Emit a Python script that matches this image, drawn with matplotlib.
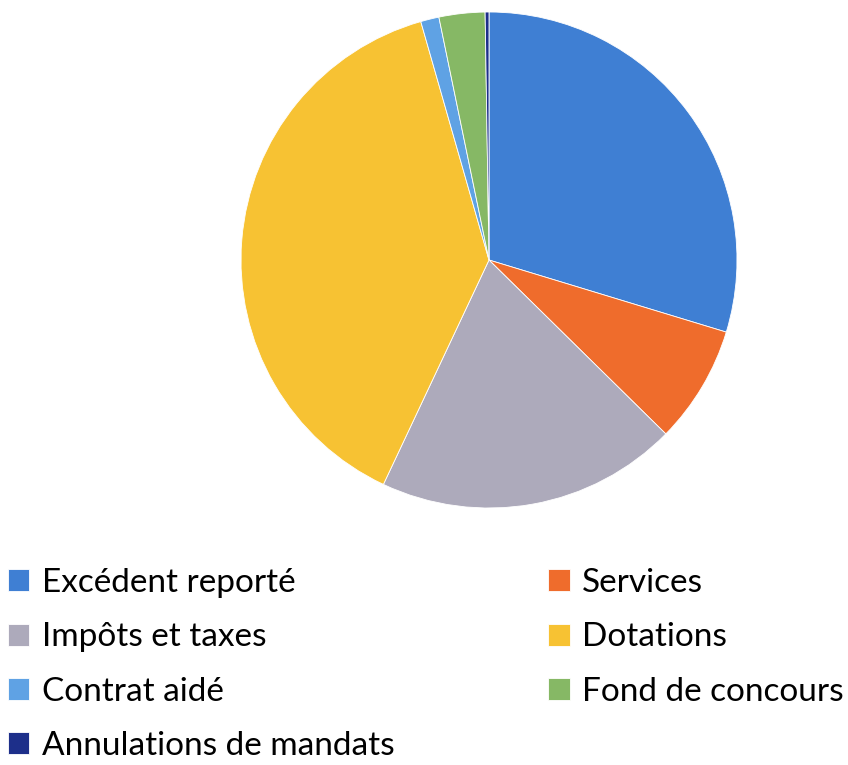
import matplotlib.pyplot as plt

categories = ["Excédent reporté", "Services", "Impôts et taxes", "Dotations",
              "Contrat aidé", "Fond de concours", "Annulations de mandats"]
values = [29.8, 7.7, 19.7, 38.7, 1.2, 3.0, 0.25]
colors = ["#3f7fd3", "#ef6c2c", "#adaabb", "#f7c233", "#5fa2e4", "#86b865", "#1d2f8a"]

plt.rcParams['font.family'] = ['Lato', 'DejaVu Sans']

fig = plt.figure(figsize=(8.48, 7.65), dpi=100)
W, H = 848, 765
cx, cy, r = 489, 260, 248
ax = fig.add_axes([(cx - r) / W, (H - cy - r) / H, 2 * r / W, 2 * r / H])

wedges, _ = ax.pie(values, colors=colors, startangle=90, counterclock=False,
                   radius=1, wedgeprops=dict(edgecolor="white", linewidth=0.6))
ax.set_xlim(-1, 1)
ax.set_ylim(-1, 1)
ax.set_aspect("equal")

# ordre des colonnes comme dans l'original (lecture par lignes)
order = [0, 2, 4, 6, 1, 3, 5]
fig.legend([wedges[i] for i in order], [categories[i] for i in order],
           loc="upper left", bbox_to_anchor=(0.003, 1 - 563 / H), ncol=2,
           frameon=False, fontsize=24, handlelength=0.65, handleheight=0.65,
           handletextpad=0.38, labelspacing=0.73, columnspacing=4.6,
           borderaxespad=0, borderpad=0.15)

fig.savefig("out.png", dpi=100)
